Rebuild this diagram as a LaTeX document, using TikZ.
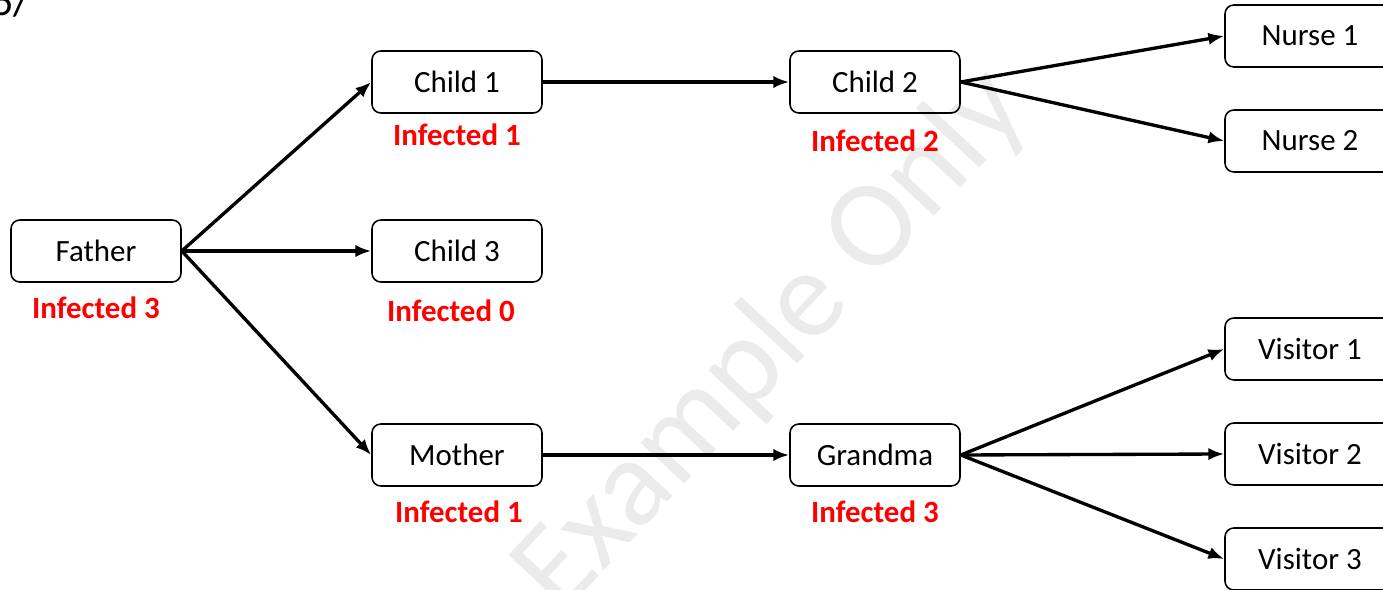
\documentclass[tikz,border=0pt]{standalone}
\usepackage{fontspec}
\setmainfont{Carlito}
\usepackage{xcolor}
\usetikzlibrary{arrows.meta}

\tikzset{
  person/.style={draw,line width=0.9pt,rounded corners=5pt,
    minimum width=3.4cm,minimum height=1.24cm,inner sep=0pt,
    font=\fontsize{17.6}{20}\selectfont},
  tally/.style={text=red,font=\fontsize{17.6}{20}\selectfont\bfseries},
  spread/.style={-{Latex[length=9pt,width=7pt]},line width=1.9pt},
}

\begin{document}
\begin{tikzpicture}[x=0.02cm,y=-0.02cm]
  \useasboundingbox(0,0)rectangle(1383,590);
  % watermark
  \node[rotate=47,text=black!8,font=\fontsize{71}{71}\selectfont](mark)at(772,342){Example Only};
  \node[anchor=base west,inner sep=0pt,font=\fontsize{24}{24}\selectfont](page)at(-8,16){5/};
  % people
  \node[person](father)at(96,251){Father};
  \node[person](child1)at(457,82){Child 1};
  \node[person](child3)at(457,251){Child 3};
  \node[person](mother)at(457,455){Mother};
  \node[person](child2)at(875,82){Child 2};
  \node[person](grandma)at(875,455){Grandma};
  \node[person](nurse1)at(1310,36){Nurse 1};
  \node[person](nurse2)at(1310,141){Nurse 2};
  \node[person](visitor1)at(1310,349){Visitor 1};
  \node[person](visitor2)at(1310,454){Visitor 2};
  \node[person](visitor3)at(1310,559){Visitor 3};
  % counts
  \node[tally](fathern)at(96,308){Infected 3};
  \node[tally](child1n)at(457,135){Infected 1};
  \node[tally](child3n)at(451,311){Infected 0};
  \node[tally](mothern)at(459,512){Infected 1};
  \node[tally](child2n)at(875,141){Infected 2};
  \node[tally](grandman)at(875,512){Infected 3};
  % links
  \foreach \to in {child1,child3,mother}
    \draw[spread](father.east)--(\to.west);
  \draw[spread](child1.east)--(child2.west);
  \draw[spread](mother.east)--(grandma.west);
  \foreach \to in {nurse1,nurse2}
    \draw[spread](child2.east)--(\to.west);
  \foreach \to in {visitor1,visitor2,visitor3}
    \draw[spread](grandma.east)--(\to.west);
\end{tikzpicture}
\end{document}
